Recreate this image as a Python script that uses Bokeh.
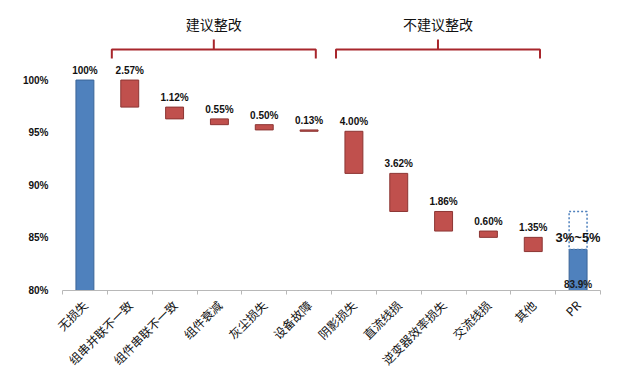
import math
from bokeh.plotting import figure
from bokeh.models import Range1d, FixedTicker, ColumnDataSource
from bokeh.core.properties import value
from bokeh.embed import file_html
from bokeh.resources import INLINE

categories = ["无损失", "组串并联不一致", "组件串联不一致", "组件衰减", "灰尘损失", "设备故障",
              "阴影损失", "直流线损", "逆变器效率损失", "交流线损", "其他", "PR"]
start_value = 100.0
losses = [2.57, 1.12, 0.55, 0.50, 0.13, 4.00, 3.62, 1.86, 0.60, 1.35]
loss_labels = ["2.57%", "1.12%", "0.55%", "0.50%", "0.13%", "4.00%", "3.62%", "1.86%", "0.60%", "1.35%"]
pr_value = 83.9
pr_upper = 87.5
pr_range_label = "3%~5%"
y_ticks = [80, 85, 90, 95, 100]
group_names = ["建议整改", "不建议整改"]
group_members = [[1, 2, 3, 4, 5], [6, 7, 8, 9, 10]]

RED = "#c0504d"
RED_LINE = "#8c3533"
BLUE = "#4f81bd"
BLUE_LINE = "#3b6597"
BRACKET = "#a8262c"

n = len(categories)
p = figure(width=628, height=378, output_backend="svg", toolbar_location=None,
           x_range=Range1d(0, n), y_range=Range1d(80, 106.8),
           min_border_left=62, min_border_right=28, min_border_top=8, min_border_bottom=88)
p.outline_line_color = None
p.xgrid.grid_line_color = None
p.ygrid.grid_line_color = None
p.background_fill_color = "white"

# start bar
centers = [i + 0.5 for i in range(n)]
w = 0.4
p.vbar(x=[centers[0]], bottom=[80], top=[start_value], width=w,
       fill_color=BLUE, line_color=BLUE_LINE, line_width=1)

# loss bars
tops, bottoms = [], []
level = start_value
for v in losses:
    tops.append(level)
    level -= v
    bottoms.append(level)
loss_x = centers[1:1 + len(losses)]
src = ColumnDataSource(dict(x=loss_x, top=tops, bottom=bottoms, label=loss_labels))
p.vbar(x="x", bottom="bottom", top="top", width=w, source=src,
       fill_color=RED, line_color=RED_LINE, line_width=1)
p.text(x="x", y="top", text="label", source=src, text_align="center",
       text_baseline="bottom", y_offset=-4, text_font=value("Liberation Sans"),
       text_font_style="bold", text_font_size="10px", text_color="#111111")
p.text(x=[centers[0]], y=[start_value], text=["100%"], text_align="center",
       text_baseline="bottom", y_offset=-4, text_font=value("Liberation Sans"),
       text_font_style="bold", text_font_size="10px", text_color="#111111")

# PR bar
p.vbar(x=[centers[-1]], bottom=[80], top=[pr_value], width=w,
       fill_color=BLUE, line_color=BLUE_LINE, line_width=1)
p.vbar(x=[centers[-1]], bottom=[pr_value], top=[pr_upper], width=w,
       fill_color=None, line_color=BLUE, line_width=1.5, line_dash="2 2")
p.text(x=[centers[-1]], y=[80], text=["%.1f%%" % pr_value], text_align="center",
       text_baseline="bottom", y_offset=-1, text_font=value("Liberation Sans"),
       text_font_style="bold", text_font_size="10px", text_color="#1a1a1a")
p.text(x=[centers[-1]], y=[pr_value], text=[pr_range_label], text_align="center",
       text_baseline="middle", y_offset=-12, text_font=value("Liberation Sans"),
       text_font_style="bold", text_font_size="13px", text_color="#111111")

# brackets
for name, members in zip(group_names, group_members):
    x0 = centers[members[0]] - 0.4
    x1 = centers[members[-1]] + 0.15
    xm = (x0 + x1) / 2
    yb = 102.9
    p.line(x=[x0, x0, x1, x1], y=[yb - 0.85, yb, yb, yb - 0.85],
           line_color=BRACKET, line_width=2)
    p.line(x=[xm, xm], y=[yb, yb + 0.95], line_color=BRACKET, line_width=2)
    p.text(x=[xm], y=[105.3], text=[name], text_align="center", text_baseline="middle",
           text_font=value("Noto Sans CJK SC"), text_font_size="14px", text_color="#111111")

# x axis
xa = p.xaxis[0]
xa.ticker = FixedTicker(ticks=centers, minor_ticks=list(range(n + 1)))
xa.major_label_overrides = {c: lab for c, lab in zip(centers, categories)}
xa.major_label_orientation = math.pi / 4
xa.major_tick_line_color = None
xa.minor_tick_in = 0
xa.minor_tick_out = 4
xa.minor_tick_line_color = "#b8b8b8"
xa.axis_line_color = "#b8b8b8"
xa.major_label_text_font = "Noto Sans CJK SC"
xa.major_label_text_font_size = "12px"
xa.major_label_text_color = "#111111"
xa.major_label_standoff = 6

# y axis
ya = p.yaxis[0]
ya.ticker = FixedTicker(ticks=y_ticks)
ya.major_label_overrides = {t: "%d%%" % t for t in y_ticks}
ya.axis_line_color = None
ya.major_tick_line_color = None
ya.minor_tick_line_color = None
ya.major_label_text_font = "Liberation Sans"
ya.major_label_text_font_style = "bold"
ya.major_label_text_font_size = "10px"
ya.major_label_text_color = "#111111"
ya.major_label_standoff = 8

open("out.html", "w").write(file_html(p, INLINE))
